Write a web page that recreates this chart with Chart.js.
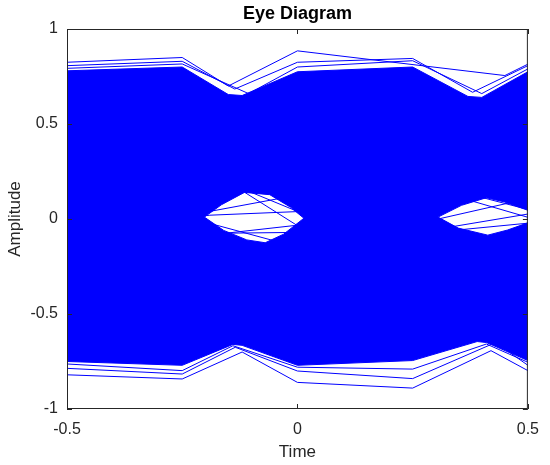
<!DOCTYPE html>
<html>
<head>
<meta charset="utf-8">
<title>Eye Diagram</title>
<script src="https://cdn.jsdelivr.net/npm/chart.js@4.4.1/dist/chart.umd.min.js"></script>
<style>
  html, body { margin: 0; padding: 0; background: #fff; }
  #wrap { width: 550px; height: 465px; }
</style>
</head>
<body>
<div id="wrap"><canvas id="eyeChart"></canvas></div>
<script>
const FONT = "'Liberation Sans', Arial, Helvetica, sans-serif";
const AXIS_COLOR = "#262626";
const TRACE_BLUE = "#0000ff";

// axis ticks
const timeTicks = [-0.5, 0, 0.5];
const ampTicks = [-1, -0.5, 0, 0.5, 1];

// outline of the dense bundle of traces
const bundleTopT = [-0.5, -0.25, -0.15, -0.12, 0, 0.25, 0.37, 0.40, 0.5];
const bundleTopV = [0.78, 0.80, 0.655, 0.65, 0.775, 0.80, 0.645, 0.64, 0.775];
const bundleBotT = [-0.5, -0.25, -0.14, -0.12, 0, 0.25, 0.39, 0.41, 0.5];
const bundleBotV = [-0.75, -0.77, -0.66, -0.665, -0.77, -0.745, -0.645, -0.65, -0.745];

// eye openings (upper and lower edge)
const eye1TopT = [-0.202, -0.165, -0.115, -0.06, -0.015, 0.014];
const eye1TopV = [0.01, 0.075, 0.14, 0.128, 0.062, 0.004];
const eye1BotT = [-0.202, -0.16, -0.11, -0.07, -0.03, 0.014];
const eye1BotV = [0.01, -0.06, -0.11, -0.125, -0.08, 0.004];
const eye2TopT = [0.305, 0.356, 0.41, 0.449, 0.5];
const eye2TopV = [0.01, 0.072, 0.112, 0.09, 0.046];
const eye2BotT = [0.305, 0.349, 0.413, 0.456, 0.5];
const eye2BotV = [0.01, -0.048, -0.085, -0.058, -0.02];

// outermost single traces above the bundle
const upperTraceT = [
  [-0.5, -0.25, -0.15, 0, 0.45, 0.5],
  [-0.5, -0.25, -0.136, 0, 0.25, 0.38, 0.5],
  [-0.5, -0.25, -0.106, 0, 0.25, 0.40, 0.5]
];
const upperTraceV = [
  [0.825, 0.85, 0.70, 0.885, 0.755, 0.815],
  [0.807, 0.83, 0.684, 0.825, 0.845, 0.667, 0.807],
  [0.793, 0.816, 0.66, 0.80, 0.833, 0.66, 0.79]
];

// outermost single traces below the bundle
const lowerTraceT = [
  [-0.5, -0.25, -0.14, 0, 0.25, 0.41, 0.5],
  [-0.5, -0.25, -0.135, 0, 0.25, 0.43, 0.5],
  [-0.5, -0.25, -0.12, 0, 0.25, 0.42, 0.5]
];
const lowerTraceV = [
  [-0.763, -0.798, -0.667, -0.78, -0.79, -0.658, -0.754],
  [-0.786, -0.816, -0.675, -0.80, -0.84, -0.65, -0.77],
  [-0.82, -0.842, -0.70, -0.86, -0.89, -0.693, -0.798]
];

// traces that cut through the eye openings
const crossTraceT = [
  [-0.26, -0.19, 0.01, 0.08],
  [-0.25, 0.05],
  [-0.16, 0.03],
  [-0.2, 0.05],
  [-0.12, 0.04],
  [-0.21, -0.05],
  [-0.17, 0.02],
  [0.28, 0.52],
  [0.34, 0.5],
  [0.3, 0.5],
  [0.33, 0.5],
  [0.39, 0.5]
];
const crossTraceV = [
  [0.0, 0.02, 0.04, 0.05],
  [0.013, 0.148],
  [0.21, -0.081],
  [-0.087, -0.019],
  [0.16, 0.0],
  [-0.01, -0.115],
  [-0.075, -0.07],
  [-0.014, 0.118],
  [0.122, 0.009],
  [-0.055, 0.026],
  [-0.062, -0.022],
  [0.12, 0.05]
];

function pts(ts, vs) {
  return ts.map((t, i) => ({ x: t, y: vs[i] }));
}

function traceSet(tList, vList, order) {
  return tList.map((ts, i) => ({
    data: pts(ts, vList[i]),
    borderColor: TRACE_BLUE,
    borderWidth: 1,
    fill: false,
    order: order
  }));
}

const datasets = [
  { data: pts(bundleTopT, bundleTopV), borderColor: TRACE_BLUE, backgroundColor: TRACE_BLUE, borderWidth: 1, fill: "+1", order: 30 },
  { data: pts(bundleBotT, bundleBotV), borderColor: TRACE_BLUE, borderWidth: 1, fill: false, order: 29 },
  { data: pts(eye1TopT, eye1TopV), borderColor: TRACE_BLUE, backgroundColor: "#ffffff", borderWidth: 1, fill: "+1", order: 20 },
  { data: pts(eye1BotT, eye1BotV), borderColor: TRACE_BLUE, borderWidth: 1, fill: false, order: 19 },
  { data: pts(eye2TopT, eye2TopV), borderColor: TRACE_BLUE, backgroundColor: "#ffffff", borderWidth: 1, fill: "+1", order: 20 },
  { data: pts(eye2BotT, eye2BotV), borderColor: TRACE_BLUE, borderWidth: 1, fill: false, order: 19 },
  ...traceSet(upperTraceT, upperTraceV, 10),
  ...traceSet(lowerTraceT, lowerTraceV, 10),
  ...traceSet(crossTraceT, crossTraceV, 10)
];

// matlab style box with inward ticks
const axesBox = {
  id: "axesBox",
  afterDatasetsDraw(chart) {
    const { ctx, chartArea: a, scales: { x, y } } = chart;
    ctx.save();
    ctx.strokeStyle = AXIS_COLOR;
    ctx.lineWidth = 1;
    ctx.strokeRect(a.left + 0.5, a.top + 0.5, a.right - a.left - 1, a.bottom - a.top - 1);
    ctx.beginPath();
    x.ticks.forEach(t => {
      const px = Math.round(x.getPixelForValue(t.value)) + 0.5;
      ctx.moveTo(px, a.bottom); ctx.lineTo(px, a.bottom - 5);
      ctx.moveTo(px, a.top); ctx.lineTo(px, a.top + 5);
    });
    y.ticks.forEach(t => {
      const py = Math.round(y.getPixelForValue(t.value)) + 0.5;
      ctx.moveTo(a.left, py); ctx.lineTo(a.left + 5, py);
      ctx.moveTo(a.right, py); ctx.lineTo(a.right - 5, py);
    });
    ctx.stroke();
    ctx.restore();
  }
};

new Chart(document.getElementById("eyeChart").getContext("2d"), {
  type: "line",
  data: { datasets },
  options: {
    responsive: true,
    maintainAspectRatio: false,
    animation: false,
    elements: { point: { radius: 0, hoverRadius: 0 }, line: { tension: 0 } },
    layout: { padding: { left: 0, right: 17.5, top: 0, bottom: 0 } },
    plugins: {
      legend: { display: false },
      tooltip: { enabled: false },
      title: {
        display: true,
        text: "Eye Diagram",
        color: "#000000",
        fullSize: false,
        font: { family: FONT, size: 18, weight: "bold" },
        padding: { top: 3, bottom: 4.4 }
      }
    },
    scales: {
      x: {
        type: "linear",
        min: -0.5,
        max: 0.5,
        afterBuildTicks: s => { s.ticks = timeTicks.map(v => ({ value: v })); },
        afterFit: s => { s.height = 56; },
        grid: { display: false, drawTicks: false },
        border: { display: false },
        ticks: {
          color: AXIS_COLOR,
          font: { family: FONT, size: 16 },
          padding: 11,
          maxRotation: 0,
          autoSkip: false,
          callback: v => String(v)
        },
        title: {
          display: true,
          text: "Time",
          color: AXIS_COLOR,
          font: { family: FONT, size: 17 },
          padding: { top: 0, bottom: 2 }
        }
      },
      y: {
        type: "linear",
        min: -1,
        max: 1,
        afterBuildTicks: s => { s.ticks = ampTicks.map(v => ({ value: v })); },
        afterFit: s => { s.width = 67; },
        grid: { display: false, drawTicks: false },
        border: { display: false },
        ticks: {
          color: AXIS_COLOR,
          font: { family: FONT, size: 16 },
          padding: 9,
          autoSkip: false,
          callback: v => String(v)
        },
        title: {
          display: true,
          text: "Amplitude",
          color: AXIS_COLOR,
          font: { family: FONT, size: 17 },
          padding: { top: 5, bottom: 0 }
        }
      }
    }
  },
  plugins: [axesBox]
});
</script>
</body>
</html>
